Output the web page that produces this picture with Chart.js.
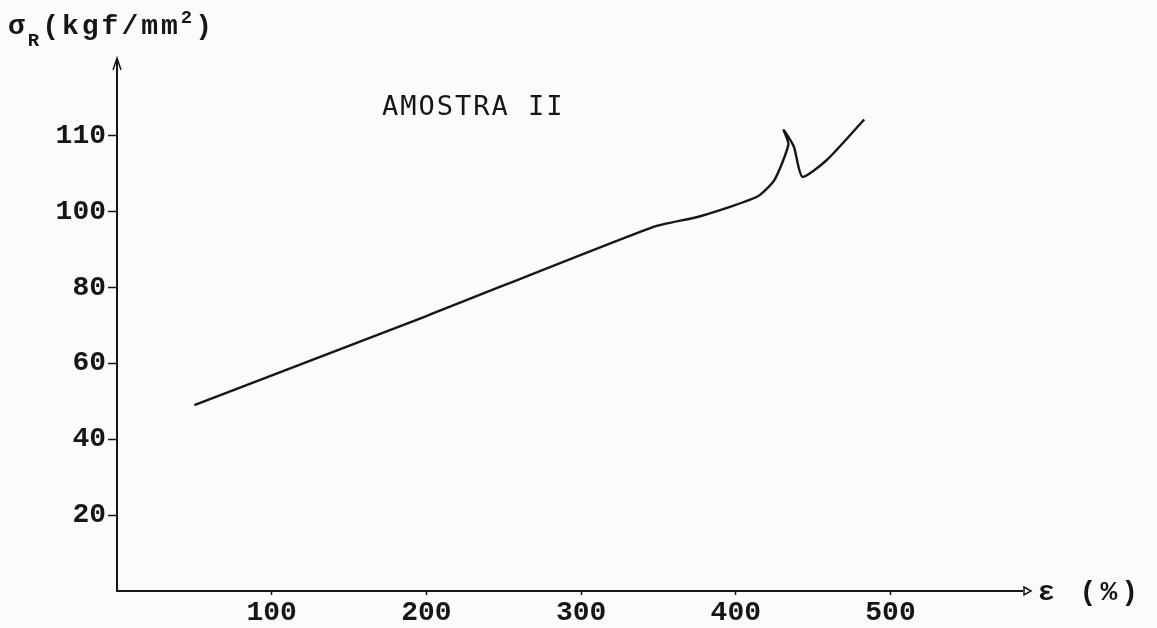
<!DOCTYPE html>
<html>
<head>
<meta charset="utf-8">
<script src="https://cdn.jsdelivr.net/npm/chart.js@4.4.1/dist/chart.umd.min.js"></script>
<style>
  html, body { margin: 0; padding: 0; background: #fbfbfa; }
  #wrap { width: 1157px; height: 628px; position: relative; }
</style>
</head>
<body>
<div id="wrap"><canvas id="c"></canvas></div>
<script>
// strain (%) and rupture stress
const strain = [50, 200, 346, 377, 414, 425, 434, 431, 437.5, 443, 459, 483];
const stress = [49, 72.5, 95.9, 98.8, 104, 108.4, 117.7, 121.5, 117.2, 109.2, 113.7, 124.3];

const xTicks = [100, 200, 300, 400, 500];
const yTicks = [20, 40, 60, 80, 100, 120];
const yTickLabels = ["20", "40", "60", "80", "100", "110"]; // top label reads 110 on the original

const INK = "#161616";
const FONT = "'Liberation Mono', 'DejaVu Sans Mono', monospace";

const points = strain.map((x, i) => ({ x: x, y: stress[i] }));

const decor = {
  id: "decor",
  afterDraw(chart) {
    const ctx = chart.ctx;
    const a = chart.chartArea;
    ctx.save();
    ctx.strokeStyle = INK;
    ctx.fillStyle = INK;
    ctx.lineWidth = 1.5;
    // arrow on top of y axis
    ctx.beginPath();
    ctx.moveTo(a.left - 4, a.top + 10);
    ctx.lineTo(a.left, a.top - 2);
    ctx.lineTo(a.left + 4, a.top + 10);
    ctx.stroke();
    // arrow at end of x axis
    ctx.beginPath();
    ctx.moveTo(a.right + 2, a.bottom - 4);
    ctx.lineTo(a.right + 9, a.bottom);
    ctx.lineTo(a.right + 2, a.bottom + 4);
    ctx.closePath();
    ctx.stroke();

    ctx.textBaseline = "alphabetic";
    ctx.letterSpacing = "3px";
    // y axis title
    const big = "bold 28px " + FONT, small = "bold 19px " + FONT;
    ctx.font = big;
    let x = 8;
    ctx.fillText("σ", x, 34); x += ctx.measureText("σ").width;
    ctx.font = small;
    ctx.fillText("R", x, 46); x += ctx.measureText("R").width;
    ctx.font = big;
    ctx.fillText("(kgf/mm", x, 34); x += ctx.measureText("(kgf/mm").width;
    ctx.font = small;
    ctx.fillText("2", x, 23); x += ctx.measureText("2").width;
    ctx.font = big;
    ctx.fillText(")", x, 34);
    // x axis title
    ctx.letterSpacing = "4px";
    ctx.fillText("ε (%)", a.right + 16, a.bottom + 9);
    // sample name (typed in a sans face on the original)
    ctx.font = "27px 'DejaVu Sans Mono', monospace";
    ctx.letterSpacing = "2px";
    ctx.fillText("AMOSTRA II", 382, 115);
    ctx.restore();
  }
};

new Chart("c", {
  type: "line",
  plugins: [decor],
  data: {
    datasets: [{
      data: points,
      borderColor: INK,
      borderWidth: 2.4,
      pointRadius: 0,
      tension: 0.2,
      fill: false,
    }],
  },
  options: {
    responsive: true,
    maintainAspectRatio: false,
    animation: false,
    layout: { padding: { top: 60, right: 135, left: 0, bottom: 0 } },
    plugins: {
      legend: { display: false },
      tooltip: { enabled: false },
    },
    scales: {
      x: {
        type: "linear",
        min: 0,
        max: 585,
        afterBuildTicks: (s) => { s.ticks = xTicks.map((v) => ({ value: v })); },
        afterFit: (s) => { s.height = 37; },
        border: { display: true, color: INK, width: 2 },
        grid: { drawOnChartArea: false, color: INK, tickLength: 4, tickWidth: 1.5 },
        ticks: {
          color: INK,
          padding: 1,
          maxRotation: 0,
          font: { family: FONT, size: 28, weight: "bold" },
        },
      },
      y: {
        type: "linear",
        min: 0,
        max: 140,
        afterBuildTicks: (s) => { s.ticks = yTicks.map((v) => ({ value: v })); },
        afterFit: (s) => { s.width = 117; },
        border: { display: true, color: INK, width: 2 },
        grid: { drawOnChartArea: false, color: INK, tickLength: 9, tickWidth: 1.5 },
        ticks: {
          color: INK,
          padding: 2,
          font: { family: FONT, size: 28, weight: "bold" },
          callback: (v) => {
            const i = yTicks.indexOf(v);
            return i >= 0 ? yTickLabels[i] : "";
          },
        },
      },
    },
  },
});
</script>
</body>
</html>
